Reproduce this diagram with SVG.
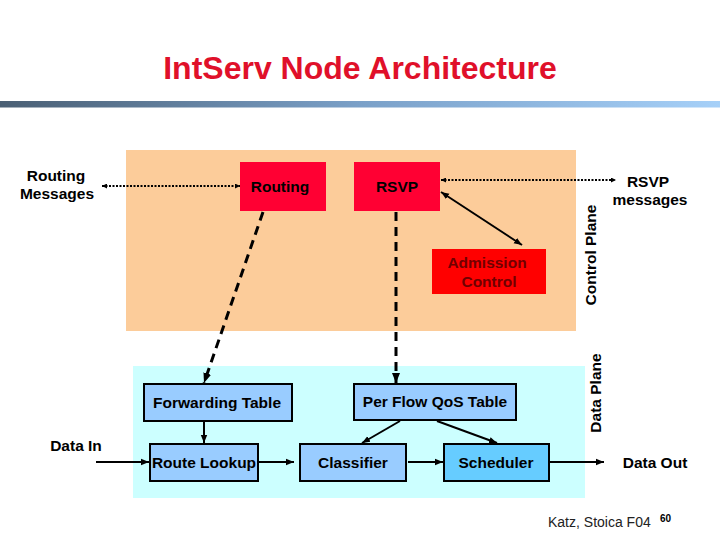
<svg xmlns="http://www.w3.org/2000/svg" width="720" height="540" viewBox="0 0 720 540">
<style>
text{font-family:"Liberation Sans",Arial,sans-serif;fill:#000}
.lbl{font-size:15.5px;font-weight:bold}
.red{fill:#ff0033}
.blue{fill:#99ccff;stroke:#000;stroke-width:2}
.solid{stroke:#000;stroke-width:2;fill:none}
.dash{stroke:#000;stroke-width:3;stroke-dasharray:9,6;fill:none}
.dot{stroke:#000;stroke-width:2;stroke-dasharray:2,1.5;fill:none}
</style>
<defs>
<linearGradient id="bar" x1="0" y1="0" x2="1" y2="0">
<stop offset="0" stop-color="#4a5f74"/>
<stop offset="0.5" stop-color="#7aa0c8"/>
<stop offset="1" stop-color="#a6d0f8"/>
</linearGradient>
<marker id="ah" viewBox="0 0 10 10" refX="10" refY="5" markerWidth="5" markerHeight="5" orient="auto-start-reverse" markerUnits="userSpaceOnUse">
<path d="M0,0 L10,5 L0,10 z" fill="#000"/>
</marker>
<marker id="ahs" viewBox="0 0 10 10" refX="10" refY="5" markerWidth="8" markerHeight="8" orient="auto-start-reverse" markerUnits="userSpaceOnUse">
<path d="M0,1 L10,5 L0,9 z" fill="#000"/>
</marker>
<marker id="ahd" viewBox="0 0 10 10" refX="10" refY="5" markerWidth="10" markerHeight="10" orient="auto-start-reverse" markerUnits="userSpaceOnUse">
<path d="M0,1 L10,5 L0,9 z" fill="#000"/>
</marker>
</defs>
<rect width="720" height="540" fill="#fff"/>
<text x="360" y="79" text-anchor="middle" style="font-size:32px;font-weight:bold;fill:#e0102a">IntServ Node Architecture</text>
<rect x="0" y="101" width="720" height="6.5" fill="url(#bar)"/>

<g id="control-plane">
<rect x="126" y="150" width="450" height="181" fill="#fccc9a"/>
<text transform="translate(596,255) rotate(-90)" text-anchor="middle" class="lbl">Control Plane</text>
</g>
<g id="data-plane">
<rect x="133" y="366" width="452" height="132" fill="#ccffff"/>
<text transform="translate(601,393) rotate(-90)" text-anchor="middle" class="lbl">Data Plane</text>
</g>

<g id="routing">
<rect x="240" y="162" width="86" height="49" class="red"/>
<text x="280" y="192" text-anchor="middle" class="lbl">Routing</text>
</g>
<g id="rsvp">
<rect x="354" y="162" width="86" height="49" class="red"/>
<text x="397" y="192" text-anchor="middle" class="lbl">RSVP</text>
</g>
<g id="admission-control">
<rect x="432" y="249" width="114" height="45" fill="#ff0000"/>
<text x="487" y="268" text-anchor="middle" class="lbl" style="fill:#700000">Admission</text>
<text x="489" y="287" text-anchor="middle" class="lbl" style="fill:#700000">Control</text>
</g>
<g id="routing-messages">
<text x="56" y="181" text-anchor="middle" class="lbl">Routing</text>
<text x="57" y="199" text-anchor="middle" class="lbl">Messages</text>
</g>
<g id="rsvp-messages">
<text x="648" y="187" text-anchor="middle" class="lbl">RSVP</text>
<text x="650" y="205" text-anchor="middle" class="lbl">messages</text>
</g>

<g id="forwarding-table">
<rect x="144" y="384" width="148" height="37" class="blue"/>
<text x="217" y="408" text-anchor="middle" class="lbl">Forwarding Table</text>
</g>
<g id="route-lookup">
<rect x="150" y="444" width="108" height="37" class="blue"/>
<text x="204" y="468" text-anchor="middle" class="lbl">Route Lookup</text>
</g>
<g id="per-flow-qos-table">
<rect x="354" y="384" width="162" height="36" class="blue"/>
<text x="435" y="407" text-anchor="middle" class="lbl">Per Flow QoS Table</text>
</g>
<g id="classifier">
<rect x="300" y="444" width="106" height="37" class="blue"/>
<text x="353" y="468" text-anchor="middle" class="lbl">Classifier</text>
</g>
<g id="scheduler">
<rect x="444" y="444" width="105" height="37" fill="#66ccff" stroke="#000" stroke-width="2"/>
<text x="496" y="468" text-anchor="middle" class="lbl">Scheduler</text>
</g>
<g id="data-in">
<text x="76" y="451" text-anchor="middle" class="lbl">Data In</text>
</g>
<g id="data-out">
<text x="655" y="468" text-anchor="middle" class="lbl">Data Out</text>
</g>

<g id="connectors">
<line x1="102" y1="186" x2="240" y2="186" class="dot" marker-start="url(#ah)" marker-end="url(#ah)"/>
<line x1="441" y1="180" x2="616" y2="180" class="dot" marker-start="url(#ah)" marker-end="url(#ah)"/>
<line x1="441" y1="192" x2="522" y2="245" class="solid" marker-start="url(#ahs)" marker-end="url(#ahs)"/>
<line x1="263" y1="212" x2="204" y2="383" class="dash" marker-end="url(#ahd)"/>
<line x1="396" y1="212" x2="396" y2="383" class="dash" marker-end="url(#ahd)"/>
<line x1="204" y1="422" x2="204" y2="443" class="solid" marker-end="url(#ahs)"/>
<line x1="96" y1="462" x2="149" y2="462" class="solid" marker-end="url(#ahs)"/>
<line x1="259" y1="462" x2="294" y2="462" class="solid" marker-end="url(#ahs)"/>
<line x1="408" y1="462" x2="443" y2="462" class="solid" marker-end="url(#ahs)"/>
<line x1="550" y1="462" x2="604" y2="462" class="solid" marker-end="url(#ahs)"/>
<line x1="400" y1="421" x2="362" y2="443" class="solid" marker-end="url(#ahs)"/>
<line x1="437" y1="421" x2="497" y2="443" class="solid" marker-end="url(#ahs)"/>
</g>

<text x="548" y="527" style="font-size:14px;fill:#222">Katz, Stoica F04</text>
<text x="660" y="522" style="font-size:10px;font-weight:bold">60</text>
</svg>
